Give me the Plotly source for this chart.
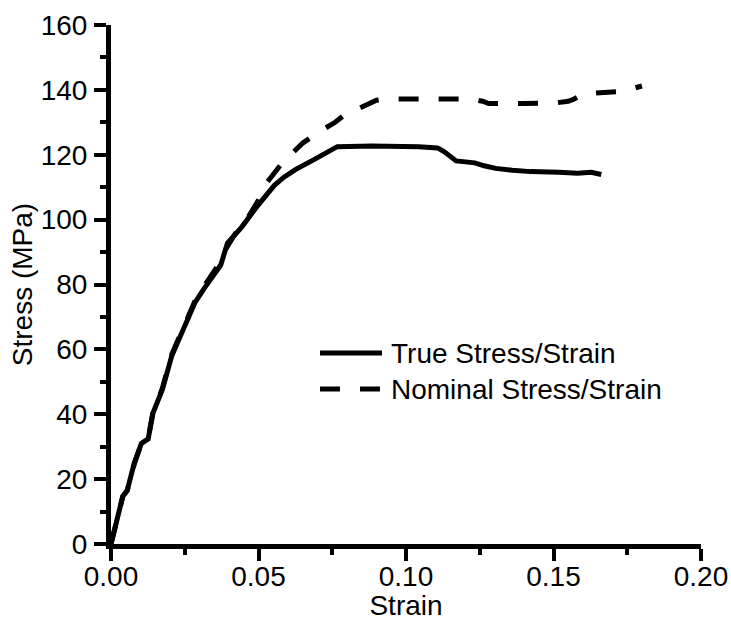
import plotly.graph_objects as go

true_strain = [0, 0.004, 0.0055, 0.0079, 0.0103, 0.0126, 0.0142, 0.0174, 0.0206, 0.0245,
               0.0285, 0.0316, 0.0356, 0.0372, 0.0395, 0.0443, 0.0498, 0.0553, 0.0585,
               0.0625, 0.0688, 0.0727, 0.0767, 0.0885, 0.0996, 0.1043, 0.1107, 0.113,
               0.117, 0.1202, 0.1233, 0.1265, 0.1304, 0.136, 0.1423, 0.1518, 0.1581,
               0.1628, 0.1662]
true_stress = [0, 14.7, 16.5, 25, 31, 32.4, 40.3, 47.6, 58, 66.6,
               74.5, 78.8, 83.7, 86, 92.8, 97.7, 104.4, 110.5, 113,
               115.4, 118.5, 120.3, 122.5, 122.7, 122.7, 122.5, 122.1, 120.9,
               118.1, 117.6, 117.5, 116.6, 115.8, 115.2, 114.8, 114.6, 114.3,
               114.6, 113.9]

nom_strain = [0, 0.004, 0.0055, 0.008, 0.0103, 0.0126, 0.0142, 0.0174, 0.0206, 0.0245,
              0.0285, 0.0316, 0.0356, 0.039, 0.043, 0.047, 0.050, 0.053, 0.058, 0.0615,
              0.065, 0.0715, 0.076, 0.079, 0.085, 0.090, 0.093, 0.100, 0.110, 0.121,
              0.126, 0.128, 0.140, 0.151, 0.155, 0.157, 0.160, 0.168, 0.172, 0.176, 0.180]
nom_stress = [0, 14.7, 16.5, 25, 31, 32.5, 40.5, 48, 58.5, 67,
              75, 79.5, 85, 91, 97, 101.5, 106, 111.6, 117.4, 120.5,
              123.6, 127.6, 130, 132.2, 134.7, 136.8, 137.2, 137.2, 137.3, 137.2,
              136.5, 135.8, 135.8, 136.0, 136.5, 137.2, 138.8, 139.1, 139.5, 140.2, 141.2]

series_names = ["True Stress/Strain", "Nominal Stress/Strain"]
x_ticks = [0.0, 0.05, 0.10, 0.15, 0.20]
x_tick_text = ["0.00", "0.05", "0.10", "0.15", "0.20"]
y_ticks = [0, 20, 40, 60, 80, 100, 120, 140, 160]

FONT = "Liberation Sans, Arial, sans-serif"
FS = 28

fig = go.Figure()
fig.add_trace(go.Scatter(x=true_strain, y=true_stress, mode="lines", name=series_names[0],
                         line=dict(color="black", width=5), showlegend=False))
fig.add_trace(go.Scatter(x=nom_strain, y=nom_stress, mode="lines", name=series_names[1],
                         line=dict(color="black", width=5, dash="20px,20px"), showlegend=False))

# manual legend (samples are longer than Plotly's fixed legend glyph)
legend_rows = [(0.368, "solid"), (0.2985, "20px,20px")]
for (yp, dash), name in zip(legend_rows, series_names):
    fig.add_shape(type="line", xref="paper", yref="paper", x0=0.3542, x1=0.4593, y0=yp, y1=yp,
                  line=dict(color="black", width=5, dash=dash))
    fig.add_annotation(xref="paper", yref="paper", x=0.472, y=yp, text=name, showarrow=False,
                       xanchor="left", yanchor="middle", font=dict(family=FONT, size=FS, color="black"))

axis_common = dict(showline=True, linecolor="black", linewidth=5, ticks="outside",
                   ticklen=12, tickwidth=4, tickcolor="black", showgrid=False, zeroline=False,
                   tickfont=dict(family=FONT, size=FS, color="black"), mirror=False)

fig.update_xaxes(range=[0, 0.2], tickvals=x_ticks, ticktext=x_tick_text, ticklabelstandoff=-9,
                 minor=dict(ticks="outside", ticklen=6, tickwidth=4, tickcolor="black",
                            dtick=0.025, tick0=0, showgrid=False),
                 title=dict(text="Strain", font=dict(family=FONT, size=FS, color="black"), standoff=9),
                 **axis_common)
fig.update_yaxes(range=[0, 160], tickvals=y_ticks, ticklabelstandoff=1,
                 minor=dict(ticks="outside", ticklen=6, tickwidth=4, tickcolor="black",
                            dtick=10, tick0=0, showgrid=False),
                 title=dict(text="Stress (MPa)", font=dict(family=FONT, size=FS, color="black"), standoff=1),
                 **axis_common)

fig.update_layout(width=731, height=621, margin=dict(l=111, r=30, t=25, b=77, autoexpand=False),
                  plot_bgcolor="white", paper_bgcolor="white", showlegend=False,
                  font=dict(family=FONT, size=FS, color="black"))

# remove the default page margin so the figure fills the 731x621 window exactly
fig.write_html("out.html", config={"displayModeBar": False},
               post_script="document.body.style.margin='0';document.body.style.overflow='hidden';")
